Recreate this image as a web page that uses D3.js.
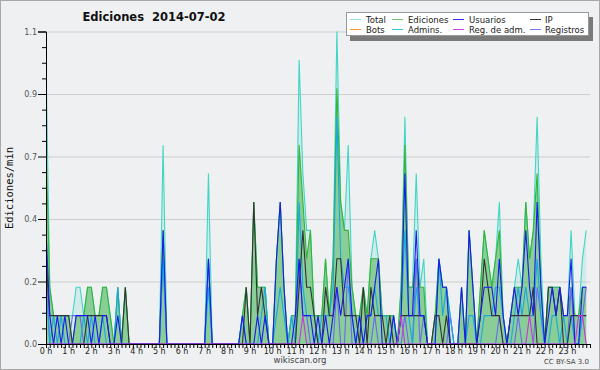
<!DOCTYPE html>
<html>
<head>
<meta charset="utf-8">
<style>
  body { margin: 0; background: #eff0f1; }
  svg { display: block; }
  text { font-family: "DejaVu Sans", sans-serif; }
</style>
<script src="https://d3js.org/d3.v7.min.js"></script>
</head>
<body>
<script>
// edits per 10-minute bin (converted to edits/min below), 144 bins for the day
var total = [10,2,1,1,1,1,1,1,2,2,1,2, 2,1,1,2,2,1,0,2,0,2,0,0,
  0,0,0,0,0,0,0,7,0,0,0,0, 0,0,0,0,0,0,0,6,0,0,0,0,
  0,0,0,0,1,2,0,5,2,2,2,0, 0,3,5,2,0,1,1,10,6,4,4,1,
  1,1,3,1,3,11,5,4,7,2,1,1, 2,1,3,4,3,1,1,1,1,0,2,8,
  2,2,6,2,3,0,0,1,3,2,2,1, 0,0,2,0,4,2,0,2,4,3,2,3,
  5,1,0,1,2,3,2,5,3,4,8,3, 0,2,2,2,2,1,1,4,1,1,3,4];
var ediciones = [7,2,1,1,1,1,1,0,1,1,1,2, 2,1,1,2,2,1,0,2,0,2,0,0,
  0,0,0,0,0,0,0,4,0,0,0,0, 0,0,0,0,0,0,0,3,0,0,0,0,
  0,0,0,0,1,2,0,5,2,2,2,0, 0,3,5,2,0,1,1,7,5,3,4,1,
  1,1,3,1,3,9,5,4,4,2,1,1, 2,1,3,3,3,1,1,1,1,0,2,7,
  2,2,3,2,2,0,0,1,3,2,2,0, 0,0,2,0,4,2,0,2,4,3,2,3,
  4,1,0,1,2,2,2,5,3,4,6,2, 0,2,2,2,2,1,1,2,1,1,2,2];
var usuarios = [4,1,0,1,0,1,0,0,1,1,1,1, 0,1,0,1,1,0,0,1,0,0,0,0,
  0,0,0,0,0,0,0,4,0,0,0,0, 0,0,0,0,0,0,0,3,0,0,0,0,
  0,0,0,0,1,0,0,0,1,0,1,0, 0,3,5,2,0,0,1,3,1,1,1,0,
  1,0,1,0,1,2,1,2,3,1,0,1, 0,1,1,2,3,0,0,0,1,0,1,6,
  1,1,4,1,1,0,0,0,3,2,2,0, 0,0,2,0,4,2,0,1,2,2,2,1,
  3,1,0,1,2,1,2,4,2,1,5,2, 0,1,2,1,2,1,1,3,0,0,2,2];
var ip = [3,1,1,1,1,1,1,0,0,0,0,1, 1,1,1,1,1,0,0,0,0,2,0,0,
  0,0,0,0,0,0,0,0,0,0,0,0, 0,0,0,0,0,0,0,0,0,0,0,0,
  0,0,0,0,0,2,0,5,1,2,1,0, 0,0,0,0,0,0,0,2,4,2,2,1,
  0,0,2,1,1,3,3,1,1,1,1,0, 2,0,2,1,1,1,0,1,0,0,1,1,
  1,1,1,1,1,0,0,1,1,0,1,0, 0,0,0,0,0,0,0,1,3,2,1,1,
  1,0,0,1,1,1,1,1,1,2,0,0, 0,2,2,1,2,0,0,1,1,1,1,1];
var admins = [2,0,1,0,1,0,0,0,0,0,1,0, 1,0,0,1,0,0,0,2,0,0,0,0,
  0,0,0,0,0,0,0,3,0,0,0,0, 0,0,0,0,0,0,0,2,0,0,0,0,
  0,0,0,0,1,0,0,0,0,1,2,0, 0,1,2,1,0,1,0,5,2,1,1,1,
  0,1,1,1,2,8,3,2,2,1,0,1, 0,1,1,2,1,1,1,0,1,0,1,4,
  1,0,2,1,1,0,0,0,3,1,2,1, 0,0,0,0,1,1,0,0,1,1,1,2,
  2,1,0,0,1,2,1,2,1,1,3,1, 0,0,1,1,0,1,0,1,0,0,1,1];
var registros = [3,0,0,0,0,0,0,1,1,1,0,0, 0,0,0,0,0,0,0,0,0,0,0,0,
  0,0,0,0,0,0,0,3,0,0,0,0, 0,0,0,0,0,0,0,3,0,0,0,0,
  0,0,0,0,0,0,0,0,0,0,0,0, 0,0,0,0,0,0,0,3,1,1,0,0,
  0,0,0,0,0,2,0,0,3,0,0,0, 0,0,0,1,0,0,0,0,0,0,0,1,
  0,0,3,0,1,0,0,0,0,0,0,1, 0,0,0,0,0,0,0,0,0,0,0,0,
  1,0,0,0,0,1,0,0,0,0,2,1, 0,0,0,0,0,0,0,2,0,0,1,2];
var regAdm = [0,0,0,0,0,0,0,0,0,0,0,0, 0,0,0,0,0,0,0,0,0,0,0,0,
  0,0,0,0,0,0,0,0,0,0,0,0, 0,0,0,0,0,0,0,0,0,0,0,0,
  0,0,0,0,0,0,0,0,0,0,0,0, 0,0,0,0,0,0,0,0,1,0,0,0,
  0,0,0,0,0,0,0,0,0,0,0,0, 0,0,0,0,0,0,0,0,0,0,1,0,
  0,0,0,0,0,0,0,0,0,0,0,0, 0,0,0,0,0,0,0,0,0,0,0,0,
  0,0,0,0,0,0,0,0,1,0,0,0, 0,0,0,0,0,0,0,0,0,1,1,0];

var hourLabels = ["0 h","1 h","2 h","3 h","4 h","5 h","6 h","7 h","8 h","9 h","10 h","11 h",
  "12 h","13 h","14 h","15 h","16 h","17 h","18 h","19 h","20 h","21 h","22 h","23 h"];
var yTicks = [0, 0.22, 0.44, 0.66, 0.88, 1.1];
var yMinor = [0.055, 0.11, 0.165, 0.275, 0.33, 0.385, 0.495, 0.55, 0.605, 0.715, 0.77, 0.825, 0.935, 0.99, 1.045];

var legendItems = [
  {name: "Total", color: "#8fe2d8"}, {name: "Ediciones", color: "#6cc46c"},
  {name: "Usuarios", color: "#3030e8"}, {name: "IP", color: "#333"},
  {name: "Bots", color: "#ff9a30"}, {name: "Admins.", color: "#30c4e0"},
  {name: "Reg. de adm.", color: "#cc44dd"}, {name: "Registros", color: "#7a7af0"}
];

var W = 600, H = 370;
var pLeft = 46, pRight = 590, pTop = 31.5, pBottom = 344;

var svg = d3.select("body").append("svg").attr("width", W).attr("height", H);
svg.append("rect").attr("x", 0.5).attr("y", 0.5).attr("width", W - 1).attr("height", H - 1)
  .attr("fill", "#eff0f1").attr("stroke", "#a8a8a8");

var x = d3.scaleLinear().domain([0, 1440]).range([pLeft, pRight]);
var y = d3.scaleLinear().domain([0, 1.1]).range([pBottom, pTop]);

// grid
svg.append("g").attr("transform", "translate(" + pLeft + ",0)")
  .call(d3.axisLeft(y).tickValues(yTicks.slice(1)).tickSize(-(pRight - pLeft)).tickFormat(""))
  .call(function (g) { g.select(".domain").remove(); g.selectAll("line").attr("stroke", "#cdcdcd"); });

var defs = svg.append("defs");
defs.append("clipPath").attr("id", "clip").append("rect")
  .attr("x", pLeft).attr("y", pTop - 2).attr("width", pRight - pLeft).attr("height", pBottom - pTop + 2);

var plot = svg.append("g").attr("clip-path", "url(#clip)");

function pts(arr) { return arr.map(function (v, i) { return {m: i * 10, v: v / 10}; }); }
var line = d3.line().x(function (d) { return x(d.m); }).y(function (d) { return y(d.v); });
var area = d3.area().x(function (d) { return x(d.m); }).y0(y(0)).y1(function (d) { return y(d.v); });

plot.append("path").datum(pts(total)).attr("d", area).attr("fill", "rgba(64,214,196,0.16)");
plot.append("path").datum(pts(ediciones)).attr("d", area).attr("fill", "rgba(52,168,52,0.45)");

var series = [
  [total, "#3fd6c6"], [ediciones, "#36b436"], [registros, "#6a6af4"],
  [admins, "#1aa8e0"], [ip, "#333333"], [usuarios, "#1a1af0"], [regAdm, "#cc33dd"]
];
series.forEach(function (s) {
  plot.append("path").datum(pts(s[0])).attr("d", line)
    .attr("fill", "none").attr("stroke", s[1]).attr("stroke-width", 1.1);
});

// y axis
var ya = svg.append("g").attr("transform", "translate(" + pLeft + ",0)");
ya.call(d3.axisLeft(y).tickValues(yTicks).tickSize(8).tickPadding(1).tickFormat(d3.format(".1f")));
ya.append("g").call(d3.axisLeft(y).tickValues(yMinor).tickSize(4).tickFormat(""))
  .select(".domain").remove();
ya.selectAll("line, path").attr("stroke", "#000");
ya.selectAll("text").attr("fill", "#555").style("font-size", "8px").style("font-family", "DejaVu Sans");

// x axis
var xa = svg.append("g").attr("transform", "translate(0," + pBottom + ")");
xa.call(d3.axisBottom(x).tickValues(d3.range(0, 1441, 10)).tickSize(4).tickSizeOuter(0).tickFormat(""));
xa.selectAll("line, path").attr("stroke", "#000");
xa.selectAll(".hl").data(hourLabels).enter().append("text")
  .attr("x", function (d, i) { return x(i * 60); }).attr("y", 10)
  .attr("text-anchor", "middle").attr("fill", "#222")
  .style("font-size", "8px").text(function (d) { return d; });

// titles
svg.append("text").attr("x", 154).attr("y", 21).attr("text-anchor", "middle")
  .style("font-size", "11.5px").style("font-weight", "bold").attr("fill", "#111")
  .attr("xml:space", "preserve").text("Ediciones  2014-07-02");
svg.append("text").attr("transform", "translate(13,188) rotate(-90)").attr("text-anchor", "middle")
  .style("font-family", "DejaVu Sans Mono").style("font-size", "10.5px").attr("fill", "#111")
  .text("Ediciones/min");
svg.append("text").attr("x", 300).attr("y", 363).attr("text-anchor", "middle")
  .style("font-size", "8.5px").attr("fill", "#444").text("wikiscan.org");
svg.append("text").attr("x", 589).attr("y", 364).attr("text-anchor", "end")
  .style("font-size", "7px").attr("fill", "#444").text("CC BY-SA 3.0");

// legend
var lg = svg.append("g");
lg.append("rect").attr("x", 350).attr("y", 17).attr("width", 243).attr("height", 24).attr("fill", "#7a7a7a");
lg.append("rect").attr("x", 346.5).attr("y", 12.5).attr("width", 242).attr("height", 23)
  .attr("fill", "#fff").attr("stroke", "#999");
var colX = [350, 392, 453, 530];
var colT = [366, 408, 469, 545];
legendItems.forEach(function (d, i) {
  var c = i % 4, r = Math.floor(i / 4);
  var yy = 19.5 + r * 10;
  lg.append("line").attr("x1", colX[c]).attr("x2", colX[c] + 11).attr("y1", yy).attr("y2", yy)
    .attr("stroke", d.color).attr("stroke-width", 1);
  lg.append("text").attr("x", colT[c]).attr("y", yy + 3).style("font-size", "8.5px")
    .attr("fill", "#222").text(d.name);
});
</script>
</body>
</html>
